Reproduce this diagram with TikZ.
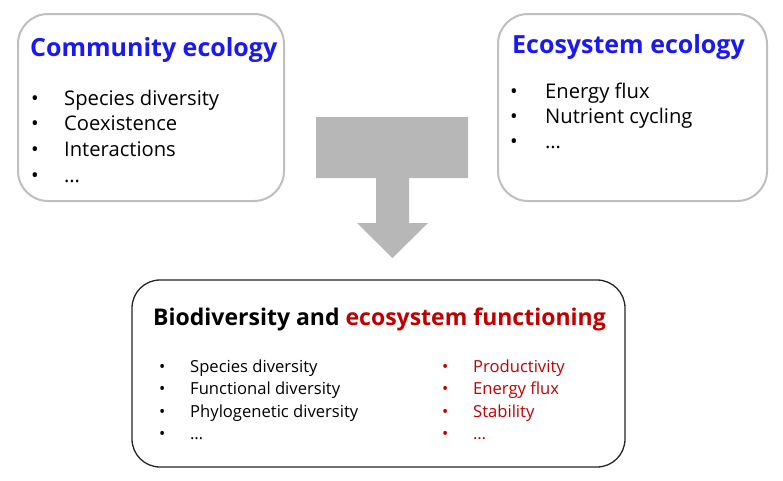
\documentclass[tikz,border=0pt]{standalone}
\usepackage{fontspec}
\setmainfont{Open Sans}
\definecolor{titleblue}{HTML}{1A1AF0}
\definecolor{fred}{HTML}{C00000}
\definecolor{boxgray}{HTML}{BFBFBF}
\definecolor{arrowgray}{HTML}{B7B7B7}
\tikzset{
  x=1pt, y=-1pt,
  graybox/.style={draw=boxgray, line width=2pt, rounded corners=30pt, fill=white},
  blackbox/.style={draw=black!85, line width=1.3pt, rounded corners=28pt, fill=white},
  ln/.style={anchor=base west, inner sep=0pt},
  toptitle/.style={ln, font=\fontsize{25}{28}\selectfont\bfseries, text=titleblue},
  topitem/.style={ln, font=\fontsize{20.2}{23}\selectfont},
  bottitle/.style={ln, font=\fontsize{23}{30}\selectfont\bfseries},
  botitem/.style={ln, font=\fontsize{16.6}{20}\selectfont},
  bigarrow/.style={fill=arrowgray, draw=none}
}
\begin{document}
\begin{tikzpicture}
\useasboundingbox (0,0) rectangle (783,480);
% boxes
\draw[graybox] (18,14) rectangle (284,201);
\draw[graybox] (498,14) rectangle (767,201);
\draw[blackbox] (132,280) rectangle (625,467);
% arrow
\fill[bigarrow] (316,117) -- (468,117) -- (468,178) -- (409,178) -- (409,223)
  -- (428,223) -- (392.5,258) -- (357,223) -- (376,223) -- (376,178) -- (316,178) -- cycle;
% community ecology
\node[toptitle] (ct) at (30,56) {Community ecology};
\foreach \t/\yy/\n in {Species diversity/105/a, Coexistence/130/b, Interactions/156/c, {…}/182/d}{
  \node[topitem] (cb\n) at (31,\yy) {•};
  \node[topitem] (ci\n) at (64,\yy) {\t};
}
% ecosystem ecology
\node[toptitle] (et) at (512,53) {Ecosystem ecology};
\foreach \t/\yy/\n in {Energy flux/98/a, Nutrient cycling/123/b, {…}/148/c}{
  \node[topitem] (eb\n) at (510,\yy) {•};
  \node[topitem] (ei\n) at (545,\yy) {\t};
}
% bottom
\node[bottitle] (bt) at (153,325) {Biodiversity and \textcolor{fred}{ecosystem functioning}};
\foreach \t/\yy/\n in {Species diversity/372/a, Functional diversity/394.5/b, Phylogenetic diversity/417/c, {…}/439.5/d}{
  \node[botitem] (lb\n) at (159,\yy) {•};
  \node[botitem] (li\n) at (190,\yy) {\t};
}
\foreach \t/\yy/\n in {Productivity/372/a, Energy flux/394.5/b, Stability/417/c, {…}/439.5/d}{
  \node[botitem, text=fred] (rb\n) at (442,\yy) {•};
  \node[botitem, text=fred] (ri\n) at (473,\yy) {\t};
}
\end{tikzpicture}
\end{document}
